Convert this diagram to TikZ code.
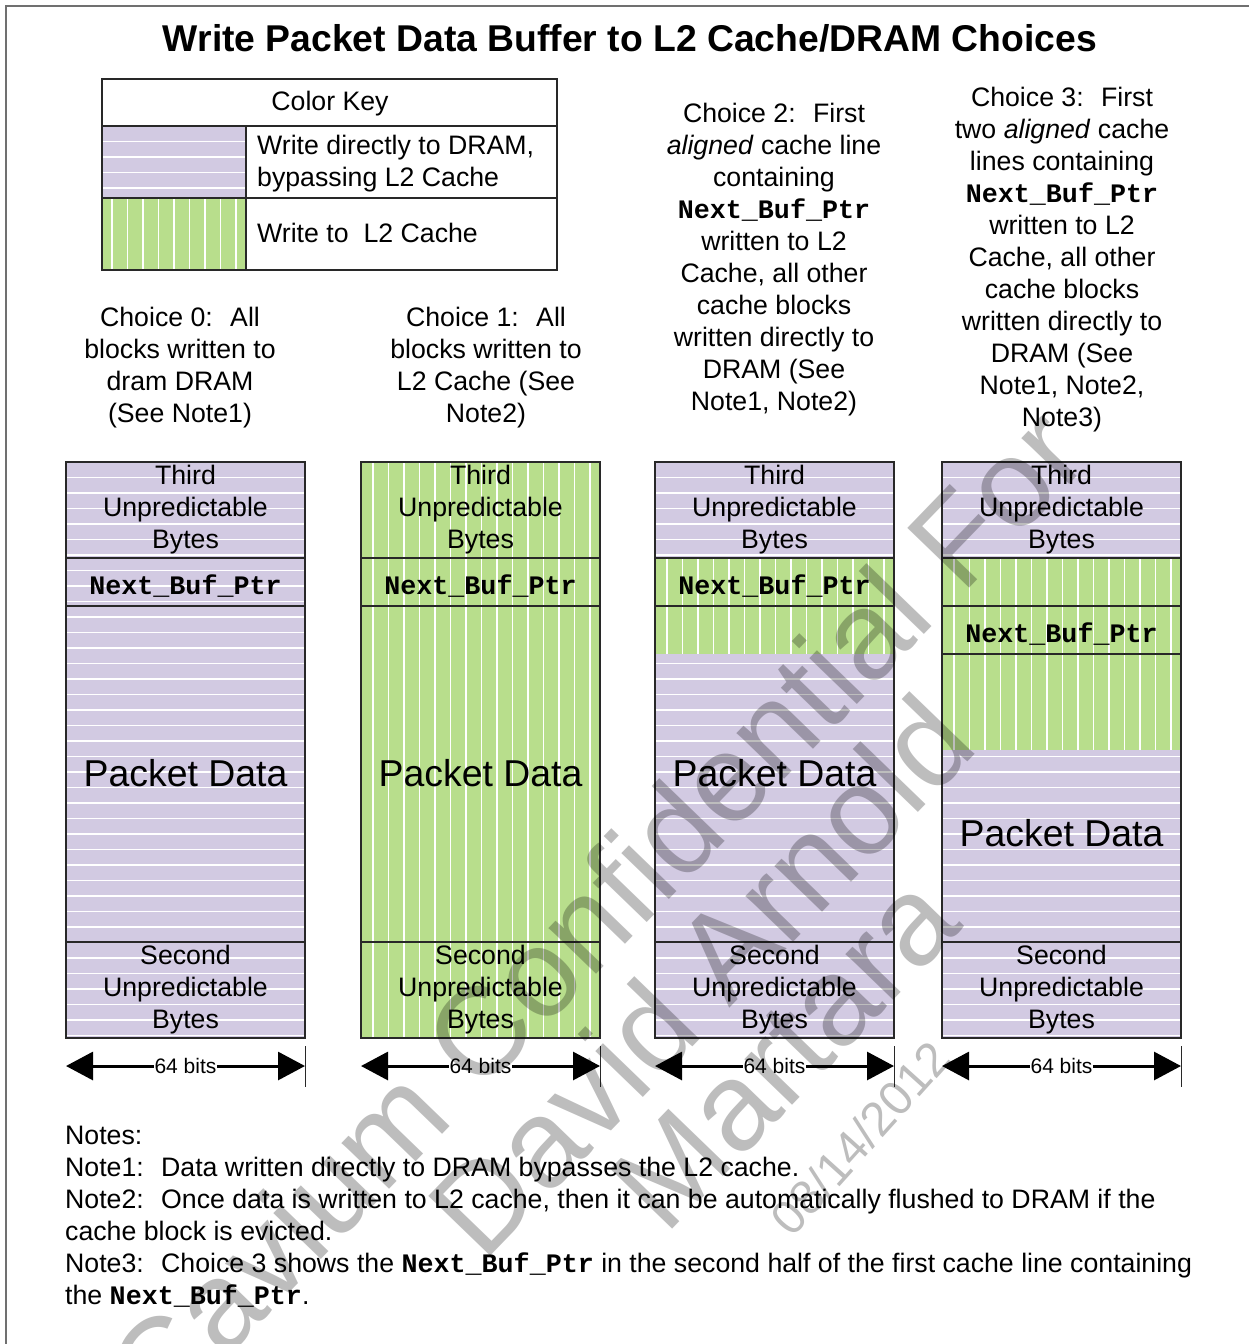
\documentclass[tikz,border=0pt]{standalone}
\usepackage{fontspec}
\setmainfont{Liberation Sans}
\setmonofont{Liberation Mono}
\usetikzlibrary{arrows.meta}

\definecolor{lav}{RGB}{210,202,226}
\definecolor{grn}{RGB}{184,222,140}
\definecolor{framegray}{RGB}{112,112,112}
\definecolor{edge}{RGB}{40,40,40}

\newcommand\ptrname{{\ttfamily\bfseries Next\_Buf\_Ptr}}

% lavender area with horizontal white stripes: x1 y1 x2 y2 y0
\newcommand\lavarea[5]{%
  \fill[lav] (#1,#2) rectangle (#3,#4);
  \begin{scope}
    \clip (#1,#2) rectangle (#3,#4);
    \foreach \k in {0,...,40}{\draw[hstripe] (#1,{#5+15.5*\k}) -- (#3,{#5+15.5*\k});}
  \end{scope}}
% green area with vertical white stripes: x1 y1 x2 y2 x0
\newcommand\grnarea[5]{%
  \fill[grn] (#1,#2) rectangle (#3,#4);
  \begin{scope}
    \clip (#1,#2) rectangle (#3,#4);
    \foreach \k in {0,...,16}{\draw[hstripe] ({#5+12+15.5*\k},#2) -- ({#5+12+15.5*\k},#4);}
  \end{scope}}

\begin{document}
\begin{tikzpicture}[x=1pt,y=-1pt,
  hstripe/.style={white,line width=1.6pt},
  boxline/.style={draw=edge,line width=1.1pt},
  body/.style={font=\fontsize{26.7}{32}\selectfont,inner sep=0pt},
  blk/.style={body,align=center},
  big/.style={font=\fontsize{37.4}{42}\selectfont,inner sep=0pt},
  ptr/.style={font=\fontsize{26.7}{32}\selectfont\ttfamily\bfseries,inner sep=0pt},
  dimline/.style={{Triangle[length=27pt,width=28pt]}-{Triangle[length=27pt,width=28pt]},line width=3pt},
  dimlbl/.style={font=\fontsize{21}{24}\selectfont,fill=white,inner sep=1pt},
  tick/.style={draw=edge,line width=1pt},
  wm/.style={text=black,text opacity=0.26,font=\fontsize{125}{130}\selectfont,inner sep=0pt,rotate=46}]

\useasboundingbox (0,0) rectangle (1249,1344);
\fill[white] (0,0) rectangle (1249,1344);

% outer frame
\draw[framegray,line width=2pt] (6,1344) -- (6,6) -- (1249,6);

% title
\node[font=\fontsize{37.3}{42}\selectfont\bfseries,anchor=base,inner sep=0pt] (title) at (630,51)
  {Write Packet Data Buffer to L2 Cache/DRAM Choices};

% colour key
\lavarea{102}{126}{246}{198}{126}
\grnarea{102}{198}{246}{270}{100}
\draw[boxline] (102,79) rectangle (557,270);
\draw[boxline] (102,126) -- (557,126);
\draw[boxline] (102,198) -- (557,198);
\draw[boxline] (246,126) -- (246,270);
\node[body] (keyhead) at (330,104) {Color Key};
\node[body,align=left,anchor=north west] (keydram) at (257,135) {Write directly to DRAM,\\bypassing L2 Cache};
\node[body,anchor=west] (keyl2) at (257,233) {Write to \ L2 Cache};

% choice captions
\node[blk,anchor=north] (cap0) at (180,307) {Choice 0: \ All\\blocks written to\\dram DRAM\\(See Note1)};
\node[blk,anchor=north] (cap1) at (486,307) {Choice 1: \ All\\blocks written to\\L2 Cache (See\\Note2)};
\node[blk,anchor=north] (cap2) at (774,103) {Choice 2: \ First\\\textit{aligned} cache line\\containing\\\ptrname\\written to L2\\Cache, all other\\cache blocks\\written directly to\\DRAM (See\\Note1, Note2)};
\node[blk,anchor=north] (cap3) at (1062,87) {Choice 3: \ First\\two \textit{aligned} cache\\lines containing\\\ptrname\\written to L2\\Cache, all other\\cache blocks\\written directly to\\DRAM (See\\Note1, Note2,\\Note3)};

% column 0: everything straight to DRAM
\lavarea{66}{462}{305}{1038}{462}
% column 1: everything to L2
\grnarea{361}{462}{600}{1038}{361}
% column 2: first aligned line to L2
\lavarea{655}{462}{894}{1038}{462}
\grnarea{655}{558}{894}{654}{655}
% column 3: first two aligned lines to L2
\lavarea{942}{462}{1181}{1038}{462}
\grnarea{942}{558}{1181}{750}{942}

% block outlines
\foreach \L/\R in {66/305,361/600,655/894}{
  \draw[boxline] (\L,462) rectangle (\R,1038);
  \draw[boxline] (\L,558) -- (\R,558);
  \draw[boxline] (\L,606) -- (\R,606);
  \draw[boxline] (\L,942) -- (\R,942);
}
\draw[boxline] (942,462) rectangle (1181,1038);
\draw[boxline] (942,558) -- (1181,558);
\draw[boxline] (942,606) -- (1181,606);
\draw[boxline] (942,654) -- (1181,654);
\draw[boxline] (942,942) -- (1181,942);

% block labels
\foreach \c/\x in {a/185.5,b/480.5,c/774.5,d/1061.5}{
  \node[blk] (third\c) at (\x,510) {Third\\Unpredictable\\Bytes};
  \node[blk] (second\c) at (\x,990) {Second\\Unpredictable\\Bytes};
}
\node[ptr] (ptra) at (185.5,586) {Next\_Buf\_Ptr};
\node[ptr] (ptrb) at (480.5,586) {Next\_Buf\_Ptr};
\node[ptr] (ptrc) at (774.5,586) {Next\_Buf\_Ptr};
\node[ptr] (ptrd) at (1061.5,634) {Next\_Buf\_Ptr};
\node[big] (pkta) at (185.5,773) {Packet Data};
\node[big] (pktb) at (480.5,773) {Packet Data};
\node[big] (pktc) at (774.5,773) {Packet Data};
\node[big] (pktd) at (1061.5,833) {Packet Data};

% width markers
\foreach \c/\L/\R in {a/66/305,b/361/600,c/655/894,d/942/1181}{
  \coordinate (wl\c) at (\L,1066);
  \coordinate (wr\c) at (\R,1066);
  \coordinate (tt\c) at (\R,1046);
  \coordinate (tb\c) at (\R,1087);
  \draw[tick] (tt\c) -- (tb\c);
  \draw[dimline] (wl\c) -- (wr\c) node[midway,dimlbl] (bits\c) {64 bits};
}

% notes
\node[body,align=left,anchor=north west] (notes) at (65,1126)
  {Notes:\\
   Note1: \ Data written directly to DRAM bypasses the L2 cache.\\
   Note2: \ Once data is written to L2 cache, then it can be automatically flushed to DRAM if the\\
   cache block is evicted.\\
   Note3: \ Choice 3 shows the \ptrname{} in the second half of the first cache line containing\\
   the \ptrname.};

% confidentiality stamp
\node[wm] (stampa) at (595,912) {Cavium Confidential For};
\node[wm] (stampb) at (700,975) {David Arnold};
\node[wm] (stampc) at (785,1052) {Martara};
\node[wm,font=\fontsize{48}{50}\selectfont,rotate=2] (stampd) at (860,1138) {08/14/2012};
\end{tikzpicture}
\end{document}
